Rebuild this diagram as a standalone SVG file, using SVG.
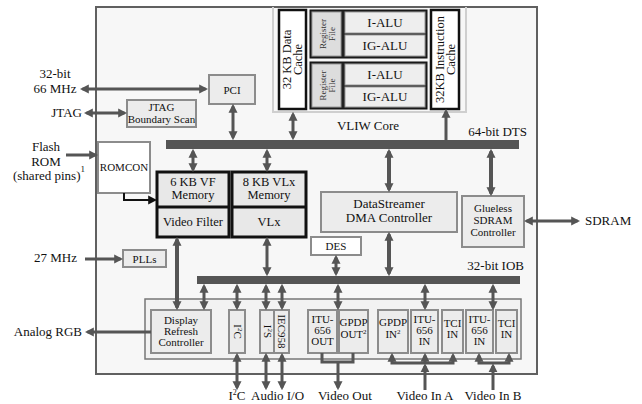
<svg xmlns="http://www.w3.org/2000/svg" width="642" height="404" viewBox="0 0 642 404">
<defs>
<style>
text{font-family:"Liberation Serif","Times New Roman",serif;fill:#111;text-anchor:middle}
.l{font-size:13px}
.s{font-size:11px}
.m{font-size:12.5px}
.rf{font-size:9px;fill:#333}
.gb{fill:#ececec;stroke:#8c8c8c;stroke-width:2}
.wb{fill:#fff;stroke:#8c8c8c;stroke-width:2}
.kb{fill:#e8e8e8;stroke:#111;stroke-width:3}
.cb{fill:#fff;stroke:#111;stroke-width:2.5}
.cell{fill:#eee;stroke:#999;stroke-width:1}
.bus{fill:#555}
.c{stroke:#555;stroke-width:3;fill:none}
.t{stroke-width:4}
.a2{marker-start:url(#ah);marker-end:url(#ah)}
.a1{marker-end:url(#ah)}
</style>
<marker id="ah" viewBox="0 0 10 10" refX="7" refY="5" markerWidth="9" markerHeight="10" markerUnits="userSpaceOnUse" orient="auto-start-reverse"><path d="M0,0 L10,5 L0,10 z" fill="#555"/></marker>
<marker id="ahk" viewBox="0 0 10 10" refX="7" refY="5" markerWidth="9" markerHeight="10" markerUnits="userSpaceOnUse" orient="auto-start-reverse"><path d="M0,0 L10,5 L0,10 z" fill="#111"/></marker>
</defs>

<g id="chip">
<rect x="96" y="7" width="441" height="367" fill="#f7f7f7" stroke="#606060" stroke-width="2"/>
</g>

<g id="vliw-core">
<path d="M273,7 V112 H466 V7" fill="none" stroke="#cfcfcf" stroke-width="2"/>
<text class="l" x="368" y="130">VLIW Core</text>
</g>

<g id="data-cache">
<rect class="cb" x="279" y="10" width="27" height="99"/>
<g transform="translate(292.5,59.5) rotate(-90)"><text class="m" x="0" y="-1.5">32 KB Data</text><text class="m" x="0" y="9.5">Cache</text></g>
</g>

<g id="instr-cache">
<rect class="cb" x="431" y="10" width="28" height="99"/>
<g transform="translate(445,59.5) rotate(-90)"><text class="m" x="0" y="-1.5" font-size="11.5px">32KB Instruction</text><text class="m" x="0" y="9.5">Cache</text></g>
</g>

<g id="alu-group-1">
<rect x="310" y="10" width="117" height="48" fill="#222" stroke="#111" stroke-width="1"/>
<rect x="312" y="12" width="29" height="44" fill="#ddd" stroke="#999"/>
<g transform="translate(326.5,34) rotate(-90)"><text class="rf" x="0" y="-1">Register</text><text class="rf" x="0" y="8">File</text></g>
<rect class="cell" x="345" y="12" width="80" height="21"/>
<text class="l" x="385" y="27">I-ALU</text>
<rect class="cell" x="345" y="35" width="80" height="21"/>
<text class="l" x="385" y="50">IG-ALU</text>
</g>

<g id="alu-group-2">
<rect x="310" y="62" width="117" height="47" fill="#222" stroke="#111" stroke-width="1"/>
<rect x="312" y="64" width="29" height="43" fill="#ddd" stroke="#999"/>
<g transform="translate(326.5,85.5) rotate(-90)"><text class="rf" x="0" y="-1">Register</text><text class="rf" x="0" y="8">File</text></g>
<rect class="cell" x="345" y="64" width="80" height="21"/>
<text class="l" x="385" y="79">I-ALU</text>
<rect class="cell" x="345" y="87" width="80" height="20"/>
<text class="l" x="385" y="101">IG-ALU</text>
</g>

<g id="dts-bus">
<rect class="bus" x="166" y="140" width="353" height="9"/>
<text class="l" x="527" y="136" style="text-anchor:end">64-bit DTS</text>
</g>

<g id="pci">
<rect class="gb" x="209" y="75" width="46" height="29"/>
<text class="s" x="232" y="93.5">PCI</text>
</g>

<g id="jtag-scan">
<rect class="gb" x="127" y="100" width="69" height="27"/>
<text class="s" x="161.5" y="111">JTAG</text>
<text class="s" x="161.5" y="123">Boundary Scan</text>
</g>

<g id="romcon">
<rect class="wb" x="98" y="142" width="52" height="51"/>
<text class="s" x="124" y="171">ROMCON</text>
</g>

<g id="vf">
<rect class="kb" x="157" y="172" width="72" height="65"/>
<line x1="157" y1="207" x2="229" y2="207" stroke="#111" stroke-width="3"/>
<text class="m" x="193" y="186">6 KB VF</text>
<text class="m" x="193" y="199">Memory</text>
<text class="m" x="193" y="226">Video Filter</text>
</g>

<g id="vlx">
<rect class="kb" x="232" y="172" width="74" height="65"/>
<line x1="232" y1="207" x2="306" y2="207" stroke="#111" stroke-width="3"/>
<text class="m" x="269" y="186">8 KB VLx</text>
<text class="m" x="269" y="199">Memory</text>
<text class="m" x="269" y="226">VLx</text>
</g>

<g id="dma">
<rect class="gb" x="321" y="192" width="136" height="40"/>
<text class="l" x="389" y="208">DataStreamer</text>
<text class="l" x="389" y="222">DMA Controller</text>
</g>

<g id="sdram-ctrl">
<rect class="gb" x="462" y="196" width="62" height="51"/>
<text class="s" x="493" y="212">Glueless</text>
<text class="s" x="493" y="224">SDRAM</text>
<text class="s" x="493" y="236">Controller</text>
</g>

<g id="des">
<rect class="wb" x="311" y="237" width="50" height="18"/>
<text class="s" x="336" y="250">DES</text>
</g>

<g id="plls">
<rect class="gb" x="123" y="250" width="43" height="17"/>
<text class="s" x="144.5" y="262.5">PLLs</text>
</g>

<g id="iob-bus">
<rect class="bus" x="197" y="276" width="323" height="8"/>
<text class="l" x="524" y="270" style="text-anchor:end">32-bit IOB</text>
</g>

<g id="peripherals">
<rect x="145" y="299" width="376" height="60" fill="#f2f2f2" stroke="#777" stroke-width="1.5"/>
</g>

<g id="drc">
<rect class="gb" x="151" y="310" width="60" height="43"/>
<text class="s" x="181" y="324">Display</text>
<text class="s" x="181" y="335">Refresh</text>
<text class="s" x="181" y="346">Controller</text>
</g>

<g id="i2c">
<rect class="gb" x="229" y="310" width="16" height="43"/>
<g transform="translate(237,331.5) rotate(90)"><text class="s" x="0" y="3.5">I<tspan font-size="7px" dy="-4">2</tspan><tspan dy="4">C</tspan></text></g>
</g>

<g id="i2s">
<rect class="gb" x="260" y="310" width="14" height="43"/>
<g transform="translate(267,331.5) rotate(90)"><text class="s" x="0" y="3.5">I<tspan font-size="7px" dy="-4">2</tspan><tspan dy="4">S</tspan></text></g>
</g>

<g id="iec958">
<rect class="gb" x="274" y="310" width="15" height="43"/>
<g transform="translate(281.5,331.5) rotate(90)"><text class="s" x="0" y="3.5">IEC958</text></g>
</g>

<g id="itu-out">
<rect class="gb" x="308" y="310" width="29" height="43"/>
<text class="s" x="322.5" y="323">ITU-</text>
<text class="s" x="322.5" y="334">656</text>
<text class="s" x="322.5" y="345">OUT</text>
</g>

<g id="gpdp-out">
<rect class="gb" x="339" y="310" width="29" height="43"/>
<text class="s" x="353.5" y="326">GPDP</text>
<text class="s" x="353.5" y="338">OUT<tspan font-size="7px" dy="-4">2</tspan></text>
</g>

<g id="gpdp-in">
<rect class="gb" x="378" y="310" width="30" height="43"/>
<text class="s" x="393" y="326">GPDP</text>
<text class="s" x="393" y="338">IN<tspan font-size="7px" dy="-4">2</tspan></text>
</g>

<g id="itu-in-a">
<rect class="gb" x="411" y="310" width="27" height="43"/>
<text class="s" x="424.5" y="323">ITU-</text>
<text class="s" x="424.5" y="334">656</text>
<text class="s" x="424.5" y="345">IN</text>
</g>

<g id="tci-in-a">
<rect class="gb" x="442" y="310" width="21" height="43"/>
<text class="s" x="452.5" y="327">TCI</text>
<text class="s" x="452.5" y="338">IN</text>
</g>

<g id="itu-in-b">
<rect class="gb" x="466" y="310" width="27" height="43"/>
<text class="s" x="479.5" y="323">ITU-</text>
<text class="s" x="479.5" y="334">656</text>
<text class="s" x="479.5" y="345">IN</text>
</g>

<g id="tci-in-b">
<rect class="gb" x="496" y="310" width="21" height="43"/>
<text class="s" x="506.5" y="327">TCI</text>
<text class="s" x="506.5" y="338">IN</text>
</g>

<g id="labels">
<text class="l" x="55" y="78">32-bit</text>
<text class="l" x="55" y="93">66 MHz</text>
<text class="l" x="82" y="117" style="text-anchor:end">JTAG</text>
<text class="l" x="46" y="151">Flash</text>
<text class="l" x="46" y="166">ROM</text>
<text class="l" x="49" y="180">(shared pins)<tspan font-size="9px" dy="-8">1</tspan></text>
<text class="l" x="77" y="262" style="text-anchor:end">27 MHz</text>
<text class="l" x="82" y="336" style="text-anchor:end">Analog RGB</text>
<text class="l" x="585" y="225" style="text-anchor:start">SDRAM</text>
<text class="l" x="237" y="400">I<tspan font-size="8px" dy="-5">2</tspan><tspan dy="5">C</tspan></text>
<text class="l" x="251" y="400" style="text-anchor:start">Audio I/O</text>
<text class="l" x="318" y="400" style="text-anchor:start">Video Out</text>
<text class="l" x="425" y="400">Video In A</text>
<text class="l" x="493" y="400">Video In B</text>
</g>

<g id="connectors">
<line class="c a2" x1="82.5" y1="89" x2="205.5" y2="89"/>
<line class="c a2" x1="86.5" y1="113" x2="124.5" y2="113"/>
<line class="c a1" x1="66" y1="155" x2="95.5" y2="155"/>
<polyline points="124,193 124,200 154.5,200" fill="none" stroke="#111" stroke-width="2" marker-end="url(#ahk)"/>
<line class="c a2" x1="233" y1="106.5" x2="233" y2="137.5"/>
<line class="c a2" x1="293" y1="114.5" x2="293" y2="137.5"/>
<line class="c a1" x1="446" y1="140" x2="446" y2="111.5"/>
<line class="c a2" x1="193" y1="151.5" x2="193" y2="169.5"/>
<line class="c a2" x1="267" y1="151.5" x2="267" y2="169.5"/>
<line class="c t a2" x1="389" y1="151.5" x2="389" y2="189.5"/>
<line class="c t a2" x1="491" y1="151.5" x2="491" y2="193.5"/>
<line class="c a2" x1="526.5" y1="221" x2="577.5" y2="221"/>
<line class="c a1" x1="85" y1="259" x2="120.5" y2="259"/>
<line class="c t a2" x1="177" y1="239.5" x2="177" y2="307.5"/>
<line class="c a2" x1="267" y1="239.5" x2="267" y2="273.5"/>
<line class="c a2" x1="336" y1="257.5" x2="336" y2="273.5"/>
<line class="c t a2" x1="389" y1="234.5" x2="389" y2="273.5"/>
<line class="c a2" x1="204" y1="286.5" x2="204" y2="307.5"/>
<line class="c a2" x1="237" y1="286.5" x2="237" y2="307.5"/>
<line class="c a2" x1="266" y1="286.5" x2="266" y2="307.5"/>
<line class="c a2" x1="282" y1="286.5" x2="282" y2="307.5"/>
<line class="c a2" x1="338" y1="286.5" x2="338" y2="307.5"/>
<line class="c a2" x1="425" y1="286.5" x2="425" y2="307.5"/>
<line class="c a2" x1="493" y1="286.5" x2="493" y2="307.5"/>
<line class="c a1" x1="151" y1="332" x2="87.5" y2="332"/>
<line class="c a2" x1="237" y1="355.5" x2="237" y2="387.5"/>
<line class="c a2" x1="266" y1="355.5" x2="266" y2="387.5"/>
<line class="c a2" x1="282" y1="355.5" x2="282" y2="387.5"/>
<path class="c" d="M322,353 V362 H353 V353"/>
<line class="c a1" x1="338" y1="362" x2="338" y2="387.5"/>
<path class="c a2" d="M392,355.5 V363 H453 V355.5"/>
<line class="c a1" x1="425" y1="363" x2="425" y2="355.5"/>
<line class="c a1" x1="425" y1="390" x2="425" y2="366"/>
<path class="c a2" d="M479,355.5 V363 H509 V355.5"/>
<line class="c a1" x1="493" y1="390" x2="493" y2="366"/>
</g>
</svg>
